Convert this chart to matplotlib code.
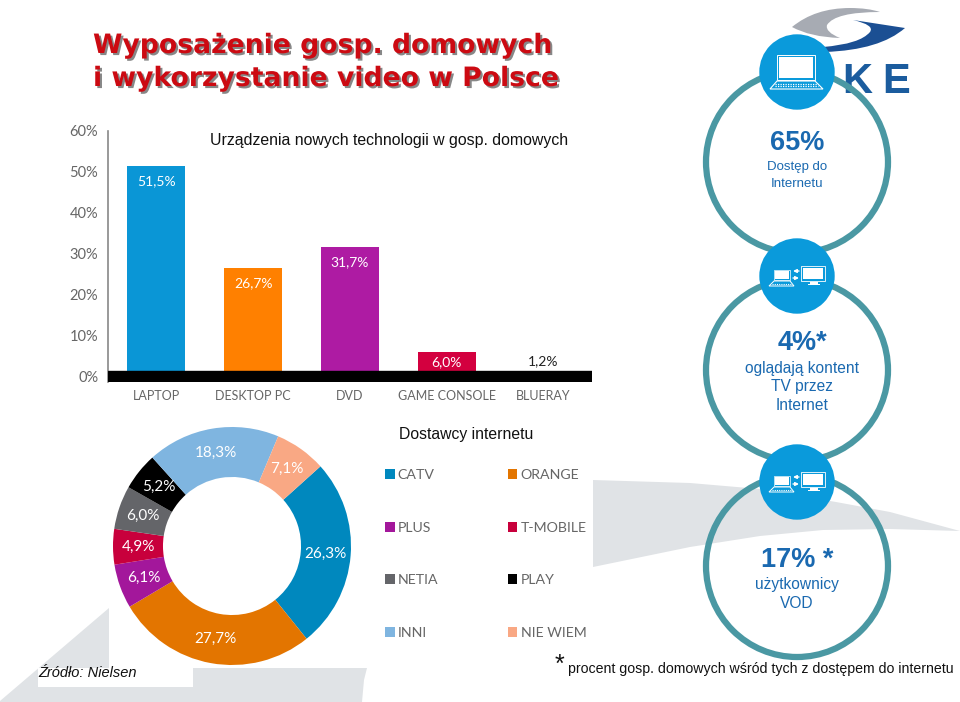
import matplotlib
matplotlib.use("Agg")
import matplotlib.pyplot as plt
import matplotlib.patheffects as pe
from matplotlib.patches import Circle, Polygon, PathPatch, Rectangle
from matplotlib.path import Path

# values
device_names = ["LAPTOP", "DESKTOP PC", "DVD", "GAME CONSOLE", "BLUERAY"]
device_values = [51.5, 26.7, 31.7, 6.0, 1.2]
device_labels = ["51,5%", "26,7%", "31,7%", "6,0%", "1,2%"]
device_colors = ["#0A96D6", "#FF8000", "#AE1BA3", "#D3003F", "#000000"]
y_ticks = [0, 10, 20, 30, 40, 50, 60]
y_tick_labels = ["0%", "10%", "20%", "30%", "40%", "50%", "60%"]

provider_names = ["CATV", "ORANGE", "PLUS", "T-MOBILE", "NETIA", "PLAY", "INNI", "NIE WIEM"]
provider_values = [26.3, 27.7, 6.1, 4.9, 6.0, 5.2, 18.3, 7.1]
provider_labels = ["26,3%", "27,7%", "6,1%", "4,9%", "6,0%", "5,2%", "18,3%", "7,1%"]
provider_colors = ["#0088BE", "#E37500", "#A3179B", "#C8003C", "#646569", "#000000", "#7FB5E0", "#F9A884"]

W, H = 960, 702
GRAY = "#666666"
RING = "#4A98A3"
BLUE = "#0A9ADB"
TXT_BLUE = "#1A69B0"
SANS = "Liberation Sans"
CAL = "Lato"

fig = plt.figure(figsize=(9.6, 7.02), dpi=100, facecolor="white")


def px_axes(x0, y0, x1, y1, **kw):
    # axes from pixel box, y counted from the top
    return fig.add_axes([x0 / W, 1 - y1 / H, (x1 - x0) / W, (y1 - y0) / H], **kw)


# background layer
bg = px_axes(0, 0, W, H, zorder=0)
bg.set_xlim(0, W)
bg.set_ylim(H, 0)
bg.axis("off")
SWOOSH = "#E0E3E6"
bg.add_patch(Polygon([(0, 701), (109, 608), (109, 668), (367, 668), (364, 680), (362, 702), (0, 702)],
                     fc=SWOOSH, ec="none"))
bg.add_patch(Polygon([(593, 480), (690, 483), (760, 489), (836, 502), (890, 512), (960, 531),
                      (890, 529), (823, 530), (760, 536), (690, 547), (593, 567)],
                     fc=SWOOSH, ec="none"))
bg.add_patch(Rectangle((38, 668), 155, 19, fc="white", ec="none"))

# logo
C3 = Path.CURVE3
bg.add_patch(PathPatch(Path([(792, 27), (815, 8), (850, 8), (868, 8), (880, 12), (835, 12), (827, 25),
                             (825, 32), (840, 38), (810, 37), (792, 27)],
                            [Path.MOVETO, C3, C3, C3, C3, C3, C3, C3, C3, C3, C3]),
                       fc="#A7ABB3", ec="none"))
bg.add_patch(PathPatch(Path([(853, 20), (905, 28), (880, 50), (825, 52), (823, 47), (860, 44), (870, 32),
                             (875, 25), (853, 20)],
                            [Path.MOVETO, Path.LINETO, C3, C3, Path.LINETO, C3, C3, C3, C3]),
                       fc="#1B4F93", ec="none"))
bg.text(857, 82, "K", family=SANS, weight="bold", fontsize=30, color="#1B5C9E", ha="center", va="center")
bg.text(896, 82, "E", family=SANS, weight="bold", fontsize=30, color="#1B5C9E", ha="center", va="center")

# title
title_fx = [pe.withSimplePatchShadow(offset=(1.5, -1.5), shadow_rgbFace="#555555", alpha=0.7)]
for y, line in zip([46, 79], ["Wyposażenie gosp. domowych", "i wykorzystanie video w Polsce"]):
    bg.text(93, y, line, family="DejaVu Sans", weight="bold", fontsize=19.2, color="#CC0A12",
            ha="left", va="center", path_effects=title_fx)

# bar chart
ax = px_axes(108, 131, 592, 382, zorder=1)
ax.patch.set_alpha(0)
ax.bar(range(len(device_values)), device_values, width=0.6, color=device_colors)
ax.axhspan(-1.22, 1.46, color="black", zorder=3)
ax.set_xlim(-0.5, 4.5)
ax.set_ylim(-1.22, 60)
ax.set_yticks(y_ticks)
ax.set_yticklabels(y_tick_labels, family=CAL, fontsize=10.5, color=GRAY)
ax.set_xticks(range(len(device_names)))
ax.set_xticklabels(device_names, family=CAL, fontsize=9, color=GRAY)
ax.tick_params(length=0, axis="y", pad=7)
ax.tick_params(length=0, axis="x", pad=6)
for s in ["top", "right", "bottom"]:
    ax.spines[s].set_visible(False)
ax.spines["left"].set_color("#888888")
ax.spines["left"].set_linewidth(1.2)
for i, (v, lab) in enumerate(zip(device_values, device_labels)):
    if i == 4:
        off, col = 8, "#222222"
    elif i == 3:
        off, col = -7, "white"
    else:
        off, col = -11, "white"
    ax.annotate(lab, (i, v), xytext=(0, off), textcoords="offset points", ha="center", va="center",
                family=CAL, fontsize=10, color=col, zorder=4)

# donut
dn = px_axes(232 - 119, 546 - 119, 232 + 119, 546 + 119, zorder=1)
wedges, texts = dn.pie(provider_values, colors=provider_colors, labels=provider_labels, startangle=42,
                       counterclock=False, radius=1, labeldistance=0.79,
                       wedgeprops={"width": 0.42, "linewidth": 0})
for t in texts:
    t.set(ha="center", va="center", family=CAL, fontsize=11, color="white")
dn.set_xlim(-1, 1)
dn.set_ylim(-1, 1)

# legend, filled column by column
order = [0, 2, 4, 6, 1, 3, 5, 7]
leg = fig.legend([wedges[i] for i in order], [provider_names[i] for i in order], ncol=2,
                 loc="upper left", bbox_to_anchor=(385 / W, 1 - 469 / H), frameon=False,
                 borderpad=0, borderaxespad=0, handlelength=0.68, handleheight=0.68, handletextpad=0.22,
                 labelspacing=2.87, columnspacing=4.9, prop={"family": CAL, "size": 10.2})
for t in leg.get_texts():
    t.set_color(GRAY)

# rings and icons on top
top = px_axes(0, 0, W, H, zorder=2)
top.set_xlim(0, W)
top.set_ylim(H, 0)
top.axis("off")
top.patch.set_alpha(0)
for cy in [162, 370, 566]:
    top.add_patch(Circle((797, cy), 91, fc="none", ec=RING, lw=4.5))
for cy in [72, 276, 482]:
    top.add_patch(Circle((797, cy), 37.7, fc=BLUE, ec="none", zorder=3))


def laptop_icon(cx, cy):
    top.add_patch(Rectangle((cx - 18, cy - 15), 34, 21, fc="white", ec="none", zorder=4))
    top.add_patch(Rectangle((cx - 20, cy - 17), 38, 25, fc="none", ec="white", lw=0.7, zorder=4))
    top.add_patch(Polygon([(cx - 20, cy + 9), (cx + 18, cy + 9), (cx + 26, cy + 17), (cx - 27, cy + 17)],
                          fc="none", ec="white", lw=0.8, zorder=4))
    for dy in [11.5, 14]:
        top.plot([cx - 22, cx + 21], [cy + dy, cy + dy], color="white", lw=0.9, ls=(0, (1, 1)), zorder=5)


def pair_icon(cx, cy):
    # small laptop
    top.add_patch(Rectangle((cx - 22, cy - 5), 14, 8, fc="white", ec="none", zorder=4))
    top.add_patch(Rectangle((cx - 23, cy - 6), 16, 10, fc="none", ec="white", lw=0.5, zorder=4))
    top.add_patch(Polygon([(cx - 23, cy + 5), (cx - 7, cy + 5), (cx - 3, cy + 10), (cx - 28, cy + 10)],
                          fc="none", ec="white", lw=0.7, zorder=4))
    top.plot([cx - 25, cx - 5], [cy + 7.5, cy + 7.5], color="white", lw=0.8, ls=(0, (1, 1)), zorder=5)
    # arrows
    top.annotate("", xy=(cx - 4, cy - 5), xytext=(cx + 2, cy - 5), zorder=4,
                 arrowprops=dict(arrowstyle="-|>", color="white", lw=1, mutation_scale=5, shrinkA=0, shrinkB=0))
    top.annotate("", xy=(cx + 2, cy + 2), xytext=(cx - 4, cy + 2), zorder=4,
                 arrowprops=dict(arrowstyle="-|>", color="white", lw=1, mutation_scale=5, shrinkA=0, shrinkB=0))
    # monitor
    top.add_patch(Rectangle((cx + 6, cy - 8), 20, 11, fc="white", ec="none", zorder=4))
    top.add_patch(Rectangle((cx + 4, cy - 10), 24, 15, fc="none", ec="white", lw=0.6, zorder=4))
    top.add_patch(Rectangle((cx + 13, cy + 6), 8, 1.5, fc="white", ec="none", zorder=4))
    top.add_patch(Rectangle((cx + 11, cy + 8), 12, 1.2, fc="white", ec="none", zorder=4))


laptop_icon(797, 72)
pair_icon(797, 276)
pair_icon(797, 482)


def ring_text(y, s, size, x=797, bold=False):
    top.text(x, y, s, family=SANS, color=TXT_BLUE, ha="center", va="center", fontsize=size,
             weight="bold" if bold else "normal", zorder=6)


ring_text(143, "65%", 19.5, bold=True)
ring_text(167, "Dostęp do", 9.5)
ring_text(184, "Internetu", 9.5)
ring_text(343, "4%*", 19.5, x=802, bold=True)
for y, s in zip([368, 387, 406], ["oglądają kontent", "TV przez", "Internet"]):
    ring_text(y, s, 11.2, x=802)
ring_text(560, "17% *", 19.5, bold=True)
for y, s in zip([585, 604], ["użytkownicy", "VOD"]):
    ring_text(y, s, 11.2)

# captions
top.text(210, 141, "Urządzenia nowych technologii w gosp. domowych", family=SANS, fontsize=11.4,
         color="#111111", ha="left", va="center", zorder=6)
top.text(399, 435, "Dostawcy internetu", family=SANS, fontsize=11.3, color="#111111", ha="left", va="center")
top.text(38, 673, "Źródło: Nielsen", family=SANS, style="italic", fontsize=10.5, color="#111111",
         ha="left", va="center")
top.text(555, 665, "*", family=SANS, fontsize=18, color="#111111", ha="left", va="center")
top.text(568, 669, "procent gosp. domowych wśród tych z dostępem do internetu", family=SANS, fontsize=10.15,
         color="#111111", ha="left", va="center")

fig.savefig("out.png", dpi=100)
